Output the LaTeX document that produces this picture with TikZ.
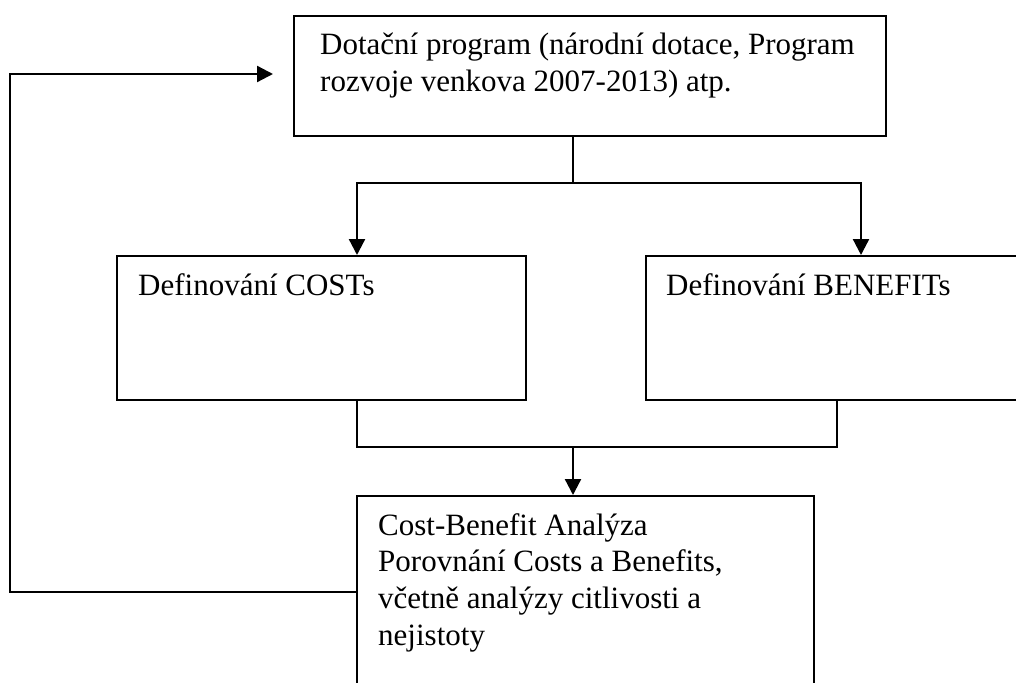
\documentclass[tikz,border=0pt]{standalone}
\usepackage{fontspec}
\setmainfont{Liberation Serif}
\usepackage{tikz}
\usetikzlibrary{arrows.meta}

\begin{document}
\begin{tikzpicture}[
		x=1pt, y=-1pt,
		blok/.style={draw=black, line width=2pt, rectangle, inner sep=0pt, anchor=north west},
		popis/.style={anchor=base west, inner sep=0pt, align=flush left, font=\fontsize{31}{36.7}\selectfont,
			execute at begin node={\spaceskip=0pt\xspaceskip=0pt}},
		spoj/.style={line width=2.3pt},
		sipka/.style={line width=2.3pt, -{Triangle[length=16pt,width=16pt]}},
		]
		\clip (0,0) rectangle (1016,682);
		%Nodes
		\node[blok, minimum width=592pt, minimum height=120pt]  (dotace)   at (293,15)  {};
		\node[blok, minimum width=409pt, minimum height=144pt]  (costs)    at (116,255) {};
		\node[blok, minimum width=390pt, minimum height=144pt]  (benefits) at (645,255) {};
		\node[blok, minimum width=457pt, minimum height=220pt]  (analyza)  at (356,495) {};
		
		\node[popis, text width=570pt]  (tdotace)   at ([shift={(27,40)}]dotace.north west)   {Dotační program (národní dotace, Program\\rozvoje venkova 2007-2013) atp.};
		\node[popis, text width=380pt]  (tcosts)    at ([shift={(22,40)}]costs.north west)    {Definování COSTs};
		\node[popis, text width=360pt]  (tbenefits) at ([shift={(21,40)}]benefits.north west) {Definování BENEFITs};
		\node[popis, text width=430pt]  (tanalyza)  at ([shift={(22,40)}]analyza.north west)  {Cost-Benefit Analýza\\Porovnání Costs a Benefits,\\včetně analýzy citlivosti a\\nejistoty};
		
		%Branch points
		\coordinate (uzel1) at (573,183);
		\coordinate (uzel2) at (573,447);
		\coordinate (roh1)  at (10,592);
		\coordinate (roh2)  at (10,74);
		\coordinate (cil)   at (273,74);
		
		%Connectors
		\draw[spoj]  (dotace.south -| uzel1) -- (uzel1);
		\draw[sipka] (uzel1) -| (costs.north -| 357,0);
		\draw[sipka] (uzel1) -| (benefits.north -| 861,0);
		\draw[spoj]  (costs.south -| 357,0) |- (uzel2) -| (benefits.south -| 837,0);
		\draw[sipka] (uzel2) -- (analyza.north -| uzel2);
		\draw[sipka] (analyza.west |- roh1) -- (roh1) -- (roh2) -- (cil);
\end{tikzpicture}
\end{document}
